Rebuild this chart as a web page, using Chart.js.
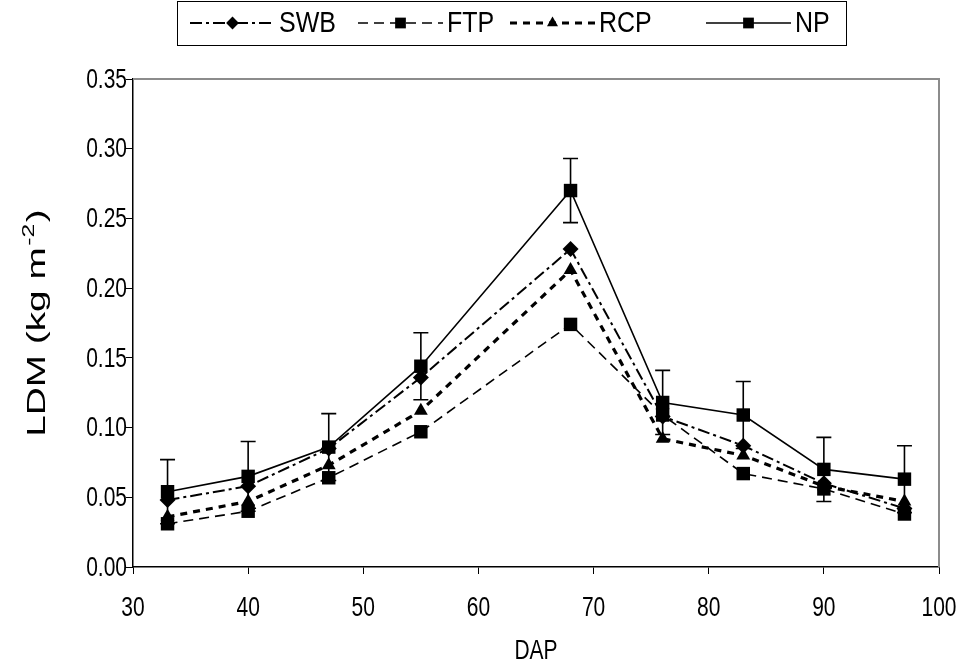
<!DOCTYPE html>
<html><head><meta charset="utf-8">
<script src="https://cdn.jsdelivr.net/npm/chart.js@4.4.0/dist/chart.umd.min.js"></script>
<style>html,body{margin:0;padding:0;background:#fff;}#wrap{width:967px;height:671px;}</style>
</head><body><div id="wrap"><canvas id="c" width="967" height="671"></canvas></div>
<script>
// ---- data ----
const dap = [33, 40, 47, 55, 68, 76, 83, 90, 97];
const swb = [0.048, 0.058, 0.085, 0.136, 0.228, 0.108, 0.087, 0.060, 0.042];
const ftp = [0.031, 0.040, 0.064, 0.097, 0.174, 0.109, 0.067, 0.056, 0.038];
const rcp = [0.036, 0.047, 0.073, 0.112, 0.213, 0.092, 0.080, 0.058, 0.047];
const np  = [0.054, 0.065, 0.086, 0.144, 0.270, 0.118, 0.109, 0.070, 0.063];
const npErr = [0.023, 0.025, 0.024, 0.024, 0.023, 0.023, 0.024, 0.023, 0.024];
const seriesNames = ['SWB', 'FTP', 'RCP', 'NP'];
const xRange = [30, 100];
const yRange = [0, 0.35];
const xTitle = 'DAP';
const yTitleParts = ['LDM (kg m', '-2', ')'];

const FONT = '"Liberation Sans", Arial, sans-serif';
const STRETCH = 1.32; // reference text is taller than wide
const pts = (arr) => dap.map((d, i) => ({x: d, y: arr[i]}));

const styles = [
  {pointStyle: 'rectRot', pointRadius: 8, borderWidth: 2, borderDash: [12, 4, 3, 4]},
  {pointStyle: 'rect', pointRadius: 9.5, borderWidth: 1.6, borderDash: [10, 6]},
  {pointStyle: 'triangle', pointRadius: 8, borderWidth: 3.2, borderDash: [7, 6]},
  {pointStyle: 'rect', pointRadius: 9.5, borderWidth: 1.6, borderDash: []}
];
const seriesData = [swb, ftp, rcp, np];

const datasets = seriesData.map((arr, i) => ({
  label: seriesNames[i],
  data: pts(arr),
  borderColor: '#000',
  backgroundColor: '#000',
  pointBackgroundColor: '#000',
  pointBorderColor: '#000',
  pointBorderWidth: 0,
  pointHoverRadius: styles[i].pointRadius,
  pointStyle: styles[i].pointStyle,
  pointRadius: styles[i].pointRadius,
  borderWidth: styles[i].borderWidth,
  borderDash: styles[i].borderDash,
  tension: 0,
  fill: false,
  order: 3 - i
}));

function tallText(ctx, text, x, y, size, align, sy) {
  ctx.save();
  ctx.translate(x, y);
  ctx.scale(1, sy);
  ctx.font = size + 'px ' + FONT;
  ctx.textAlign = align;
  ctx.textBaseline = 'middle';
  ctx.fillStyle = '#000';
  ctx.fillText(text, 0, 0);
  ctx.restore();
}

const framePlugin = {
  id: 'frame',
  beforeDatasetsDraw(chart) {
    const {ctx, chartArea: a} = chart;
    ctx.save();
    ctx.strokeStyle = '#8c8c8c';
    ctx.lineWidth = 2;
    ctx.beginPath();
    ctx.moveTo(a.left, a.top);
    ctx.lineTo(a.right, a.top);
    ctx.lineTo(a.right, a.bottom);
    ctx.stroke();
    ctx.restore();
  }
};

const errPlugin = {
  id: 'errbars',
  afterDatasetsDraw(chart) {
    const {ctx} = chart;
    const xs = chart.scales.x, ys = chart.scales.y;
    ctx.save();
    ctx.strokeStyle = '#000';
    ctx.lineWidth = 1.6;
    np.forEach((v, i) => {
      const x = xs.getPixelForValue(dap[i]);
      const yt = ys.getPixelForValue(v + npErr[i]);
      const yb = ys.getPixelForValue(v - npErr[i]);
      ctx.beginPath();
      ctx.moveTo(x, yt); ctx.lineTo(x, yb);
      ctx.moveTo(x - 7.5, yt); ctx.lineTo(x + 7.5, yt);
      ctx.moveTo(x - 7.5, yb); ctx.lineTo(x + 7.5, yb);
      ctx.stroke();
    });
    ctx.restore();
  }
};

// tick labels and axis titles, placed from the library's own scales
const axisTextPlugin = {
  id: 'axisText',
  afterDraw(chart) {
    const {ctx, chartArea: a} = chart;
    const xs = chart.scales.x, ys = chart.scales.y;
    ys.ticks.forEach((t, i) => {
      tallText(ctx, Number(t.value).toFixed(2), a.left - 6, ys.getPixelForTick(i) + 1, 21, 'right', STRETCH);
    });
    xs.ticks.forEach((t, i) => {
      tallText(ctx, String(t.value), xs.getPixelForTick(i), a.bottom + 41, 21, 'center', STRETCH);
    });
    tallText(ctx, xTitle, (a.left + a.right) / 2, 651, 21, 'center', STRETCH);

    // y title, rotated, stretched along its length
    ctx.save();
    ctx.translate(38, (a.top + a.bottom) / 2);
    ctx.rotate(-Math.PI / 2);
    ctx.scale(1.55, 1);
    ctx.fillStyle = '#000';
    ctx.textBaseline = 'middle';
    ctx.textAlign = 'left';
    const big = '25px ' + FONT, small = '16px ' + FONT;
    ctx.font = big; const w0 = ctx.measureText(yTitleParts[0]).width;
    ctx.font = small; const w1 = ctx.measureText(yTitleParts[1]).width;
    ctx.font = big; const w2 = ctx.measureText(yTitleParts[2]).width;
    let x = -(w0 + w1 + w2 + 2) / 2;
    ctx.font = big; ctx.fillText(yTitleParts[0], x, 0); x += w0 + 1;
    ctx.font = small; ctx.fillText(yTitleParts[1], x, -8); x += w1 + 1;
    ctx.font = big; ctx.fillText(yTitleParts[2], x, 0);
    ctx.restore();
  }
};

const legendPlugin = {
  id: 'boxLegend',
  afterDraw(chart) {
    const {ctx} = chart;
    const box = {x: 177, y: 1, w: 669, h: 44};
    const starts = [190, 358, 510, 706];
    const sampleLen = 85;
    const cy = box.y + box.h / 2;
    ctx.save();
    ctx.fillStyle = '#fff';
    ctx.fillRect(box.x, box.y, box.w, box.h);
    ctx.strokeStyle = '#000';
    ctx.lineWidth = 1;
    ctx.strokeRect(box.x + 0.5, box.y + 0.5, box.w, box.h);
    chart.data.datasets.forEach((ds, i) => {
      const x0 = starts[i];
      ctx.save();
      ctx.strokeStyle = '#000';
      ctx.lineWidth = ds.borderWidth;
      ctx.setLineDash(ds.borderDash);
      ctx.beginPath();
      ctx.moveTo(x0, cy); ctx.lineTo(x0 + sampleLen, cy);
      ctx.stroke();
      ctx.setLineDash([]);
      ctx.fillStyle = '#000';
      Chart.helpers.drawPoint(ctx, {pointStyle: ds.pointStyle, radius: ds.pointRadius * 0.8, rotation: 0, borderWidth: 0}, x0 + sampleLen / 2, cy);
      ctx.restore();
      tallText(ctx, ds.label, x0 + sampleLen + 4, cy + 1, 25, 'left', 1.2);
    });
    ctx.restore();
  }
};

new Chart(document.getElementById('c'), {
  type: 'line',
  data: {datasets},
  options: {
    responsive: false,
    animation: false,
    devicePixelRatio: 1,
    layout: {padding: {top: 79, right: 28, left: 0, bottom: 0}},
    plugins: {legend: {display: false}, tooltip: {enabled: false}},
    scales: {
      x: {
        type: 'linear', min: xRange[0], max: xRange[1],
        ticks: {display: false, stepSize: 10},
        grid: {drawOnChartArea: false, drawTicks: true, tickLength: 7, color: '#000', lineWidth: 1},
        border: {color: '#000', width: 1.5},
        title: {display: false},
        afterFit: (s) => { s.height = 104; s.paddingLeft = 0; s.paddingRight = 0; }
      },
      y: {
        min: yRange[0], max: yRange[1],
        ticks: {display: false, stepSize: 0.05},
        grid: {drawOnChartArea: false, drawTicks: true, tickLength: 7, color: '#000', lineWidth: 1},
        border: {color: '#000', width: 1.5},
        title: {display: false},
        afterFit: (s) => { s.width = 133; s.paddingTop = 0; s.paddingBottom = 0; }
      }
    }
  },
  plugins: [framePlugin, errPlugin, axisTextPlugin, legendPlugin]
});
</script></body></html>
